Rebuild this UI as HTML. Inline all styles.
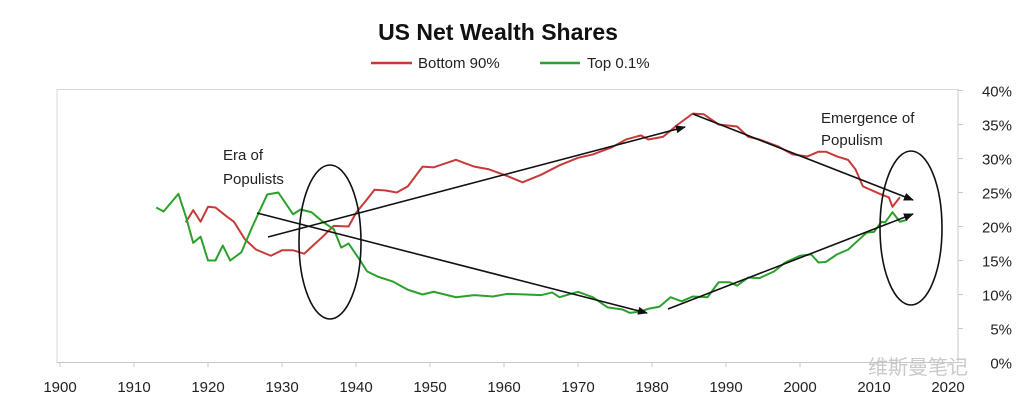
<!DOCTYPE html>
<html><head><meta charset="utf-8"><style>
html,body{margin:0;padding:0;background:#fff;}
svg{display:block;font-family:"Liberation Sans","Noto Sans CJK SC",sans-serif;}
</style></head><body>
<svg id="chart" width="1024" height="411" viewBox="0 0 1024 411" xmlns="http://www.w3.org/2000/svg">
<text x="498" y="40" text-anchor="middle" font-size="23" font-weight="bold" fill="#111">US Net Wealth Shares</text>
<g>
<line x1="371" y1="63" x2="412" y2="63" stroke="#c83a3a" stroke-width="2.5"/>
<text x="418" y="68" font-size="15" fill="#222">Bottom 90%</text>
<line x1="540" y1="63" x2="580" y2="63" stroke="#2ca02c" stroke-width="2.5"/>
<text x="587" y="68" font-size="15" fill="#222">Top 0.1%</text>
</g>
<rect x="57" y="89.5" width="901" height="273" fill="none" stroke="#d8d8d8" stroke-width="1"/>
<line x1="958" y1="89" x2="958" y2="363" stroke="#c8c8c8"/>
<line x1="57" y1="362.5" x2="958" y2="362.5" stroke="#c8c8c8"/>
<g id="xticks"></g>
<g id="yticks"></g>
<g id="series"></g>
<g stroke="#111" stroke-width="1.6" fill="none">
<defs><marker id="ah" markerWidth="10" markerHeight="8" refX="9" refY="4" orient="auto" markerUnits="userSpaceOnUse"><path d="M0,0 L10,4 L0,8 z" fill="#111" stroke="none"/></marker></defs>
<line x1="268" y1="237" x2="685" y2="127" marker-end="url(#ah)"/>
<line x1="257" y1="213" x2="647" y2="313" marker-end="url(#ah)"/>
<line x1="693" y1="114" x2="913" y2="200" marker-end="url(#ah)"/>
<line x1="668" y1="309" x2="913" y2="214" marker-end="url(#ah)"/>
<ellipse cx="330" cy="242" rx="31" ry="77"/>
<ellipse cx="911" cy="228" rx="31" ry="77"/>
</g>
<text font-size="15" fill="#222"><tspan x="223" y="160">Era of</tspan><tspan x="223" y="184">Populists</tspan></text>
<text font-size="15" fill="#222"><tspan x="821" y="123">Emergence of</tspan><tspan x="821" y="145">Populism</tspan></text>
<text x="868" y="374" font-size="20" fill="#bbb" fill-opacity="0.8">维斯曼笔记</text>
</svg>
<script>
const tickYears=[1900,1910,1920,1930,1940,1950,1960,1970,1980,1990,2000,2010,2020];
const tickPcts=[0,5,10,15,20,25,30,35,40];
const bottomYears=[1917,1918,1919,1920,1921,1922.5,1923.5,1925,1926.5,1928.5,1930,1931.5,1933,1934,1935.5,1937,1939,1940,1941.5,1942.5,1944,1945.5,1947,1949,1950.5,1953.5,1956,1958,1960.5,1962.5,1965,1967.5,1970,1972,1974.5,1976.5,1978.5,1979.5,1981.5,1983.5,1985.5,1987,1989,1991.5,1993,1994.5,1997,1999,2001,2002.5,2003.5,2005,2006.5,2007.5,2008.5,2011,2012,2012.5,2013.5];
const bottomVals=[20.6,22.4,20.7,22.9,22.8,21.5,20.7,18.1,16.6,15.7,16.5,16.5,16,17,18.5,20.1,20,22,24,25.4,25.3,25,25.9,28.8,28.7,29.8,28.8,28.4,27.4,26.5,27.6,29,30.1,30.6,31.6,32.8,33.4,32.8,33.2,35,36.6,36.5,35,34.7,33.2,32.8,31.8,30.6,30.3,31,31,30.3,29.8,28.4,25.9,24.7,24.3,22.9,24.3];
const topYears=[1913,1914,1916,1917,1918,1919,1920,1921,1922,1923,1924.5,1926,1928,1929.5,1931.5,1932.5,1934,1935.5,1937,1938,1939,1940.5,1941.5,1943,1945,1947,1949,1950.5,1953.5,1956,1958.5,1960.5,1963,1965,1966.5,1967.5,1970,1972,1974,1976,1977,1978.5,1979.5,1981,1982.5,1984,1985.5,1987.5,1989,1990.5,1991.5,1993,1994.5,1996.5,1998,2000,2001.5,2002.5,2003.5,2005,2006.5,2007.5,2009,2010,2011,2011.5,2012.5,2013.5,2014.5];
const topVals=[22.8,22.2,24.8,21.5,17.6,18.5,15,15,17.2,15,16.2,20,24.7,25,21.8,22.5,22.1,20.7,19.6,16.9,17.5,15.1,13.4,12.6,11.9,10.7,10,10.4,9.6,9.9,9.7,10.1,10,9.9,10.3,9.6,10.4,9.6,8.1,7.8,7.3,7.5,7.9,8.2,9.6,9,9.7,9.6,11.8,11.8,11.3,12.5,12.4,13.4,14.7,15.7,15.9,14.7,14.8,15.9,16.6,17.6,19.1,19.2,20.7,20.6,22.1,20.7,21];
const NS="http://www.w3.org/2000/svg";
function xs(y){return 60+(y-1900)*7.4;}
function ys(v){return 362.5-v*6.8;}
const xt=document.getElementById('xticks');
tickYears.forEach(y=>{
 const l=document.createElementNS(NS,'line');
 
 
 l.setAttribute('x1',xs(y));l.setAttribute('x2',xs(y));l.setAttribute('y1',362);l.setAttribute('y2',367);l.setAttribute('stroke','#c8c8c8');
 xt.appendChild(l);
 const t=document.createElementNS(NS,'text');
 
 
 t.setAttribute('x',xs(y));t.setAttribute('y',392);t.setAttribute('text-anchor','middle');t.setAttribute('font-size','15');t.setAttribute('fill','#222');
 t.textContent=y;xt.appendChild(t);
});
const yt=document.getElementById('yticks');
tickPcts.forEach(p=>{
 const l=document.createElementNS(NS,'line');
 
 
 l.setAttribute('x1',958);l.setAttribute('x2',963);l.setAttribute('y1',ys(p));l.setAttribute('y2',ys(p));l.setAttribute('stroke','#c8c8c8');
 yt.appendChild(l);
 const t=document.createElementNS(NS,'text');
 
 
 t.setAttribute('x',1012);t.setAttribute('y',ys(p)+6);t.setAttribute('text-anchor','end');t.setAttribute('font-size','15');t.setAttribute('fill','#222');
 t.textContent=p+'%';yt.appendChild(t);
});
const sg=document.getElementById('series');
function line(yrs,vals,color,name){
 const p=document.createElementNS(NS,'polyline');
 
 
 p.setAttribute('points',yrs.map((y,i)=>xs(y)+','+ys(vals[i])).join(' '));
 p.setAttribute('fill','none');p.setAttribute('stroke',color);p.setAttribute('stroke-width','2');p.setAttribute('stroke-linejoin','round');
 sg.appendChild(p);
}
line(bottomYears,bottomVals,'#c83a3a','bottom-90-line');
line(topYears,topVals,'#2ca02c','top-01-line');
</script>
</body></html>
